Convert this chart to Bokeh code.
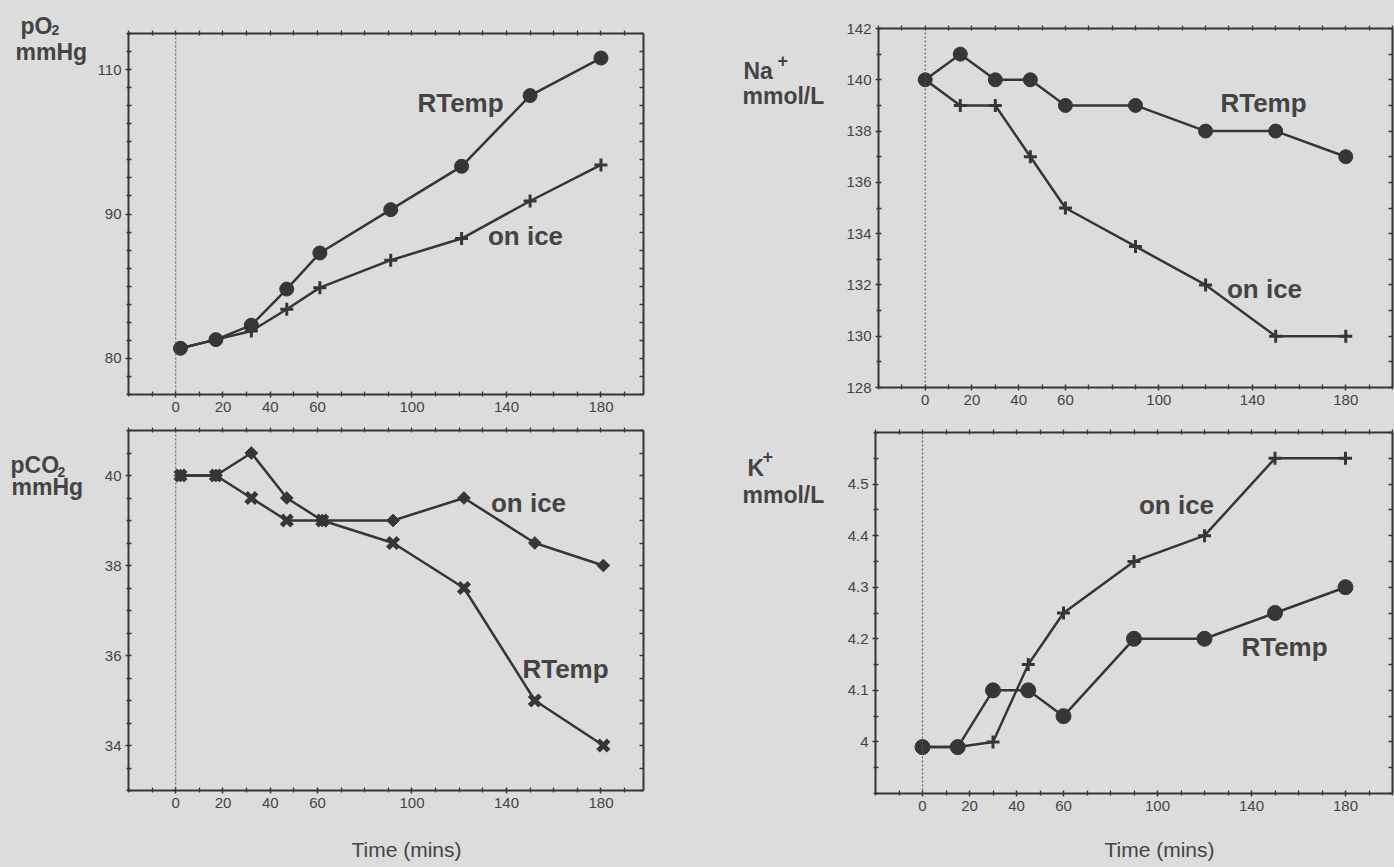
import numpy as np
from bokeh.plotting import figure
from bokeh.models import LinearAxis, FixedTicker, Range1d, Span, Label
from bokeh.layouts import column, row
from bokeh.embed import file_html
from bokeh.resources import INLINE

# ---------------- data ----------------
# pO2 (mmHg) -- values in axis units (tick "110" sits where 100 would be)
po2_time = [2, 17, 32, 47, 61, 91, 121, 150, 180]
po2_rtemp = [80.7, 81.3, 82.3, 84.8, 87.3, 90.3, 93.3, 98.2, 100.8]
po2_ice = [80.7, 81.3, 81.9, 83.4, 84.9, 86.8, 88.3, 90.9, 93.4]
po2_yticks = [80, 90, 100]
po2_ylabels = ["80", "90", "110"]

# Na+ (mmol/L)
na_time = [0, 15, 30, 45, 60, 90, 120, 150, 180]
na_rtemp = [140, 141, 140, 140, 139, 139, 138, 138, 137]
na_ice = [140, 139, 139, 137, 135, 133.5, 132, 130, 130]
na_yticks = [128, 130, 132, 134, 136, 138, 140, 142]
na_ylabels = ["128", "130", "132", "134", "136", "138", "140", "142"]

# pCO2 (mmHg)
pco2_time = [2, 17, 32, 47, 62, 92, 122, 152, 181]
pco2_ice = [40, 40, 40.5, 39.5, 39, 39, 39.5, 38.5, 38]
pco2_rtemp = [40, 40, 39.5, 39, 39, 38.5, 37.5, 35, 34]
pco2_yticks = [34, 36, 38, 40]
pco2_ylabels = ["34", "36", "38", "40"]

# K+ (mmol/L)
k_time = [0, 15, 30, 45, 60, 90, 120, 150, 180]
k_ice = [3.99, 3.99, 4.0, 4.15, 4.25, 4.35, 4.4, 4.55, 4.55]
k_rtemp = [3.99, 3.99, 4.1, 4.1, 4.05, 4.2, 4.2, 4.25, 4.3]
k_yticks = [4.0, 4.1, 4.2, 4.3, 4.4, 4.5]
k_ylabels = ["4", "4.1", "4.2", "4.3", "4.4", "4.5"]

x_label_ticks = [0, 20, 40, 60, 100, 140, 180]
x_label_text = ["0", "20", "40", "60", "100", "140", "180"]
x_all_ticks = list(range(-20, 201, 10))

# ---------------- style ----------------
BG = "#dcdcdc"
INK = "#363636"
TXT = "#444444"
FONT = "Liberation Sans"
LIFT = 8  # px: rendered baseline sits a little lower than requested


def base_fig(W, H, xr, yr, **kw):
    p = figure(width=W, height=H, output_backend="svg", toolbar_location=None,
               title=None, x_range=Range1d(*xr), y_range=Range1d(*yr),
               x_axis_location=None, y_axis_location=None, **kw)
    try:
        p.frame_align = False
    except Exception:
        pass
    p.background_fill_color = BG
    p.border_fill_color = BG
    p.outline_line_color = None
    p.xgrid.visible = False
    p.ygrid.visible = False
    return p


def text_fig(W, H, origin, items):
    """A plain strip that holds titles; items are (page_x, page_y, text, size, bold, align)."""
    ox, oy = origin
    t = base_fig(W, H, (0, W), (H, 0), min_border=0,
                 min_border_left=0, min_border_right=0,
                 min_border_top=0, min_border_bottom=0)
    for px, py, text, size, bold, align in items:
        t.add_layout(Label(x=px - ox, y=py - oy - LIFT, text=text, text_font=FONT,
                           text_font_size=size, text_color=TXT,
                           text_font_style="bold" if bold else "normal",
                           text_align=align, text_baseline="alphabetic"))
    return t


def tick_style(ax):
    ax.axis_line_color = INK
    ax.axis_line_width = 2
    ax.major_tick_line_color = INK
    ax.minor_tick_line_color = INK
    ax.major_tick_line_width = 1.5
    ax.minor_tick_line_width = 1.3
    ax.major_tick_in = 3
    ax.major_tick_out = 3
    ax.minor_tick_in = 3
    ax.minor_tick_out = 2
    ax.major_label_text_font = FONT
    ax.major_label_text_font_size = "15px"
    ax.major_label_text_color = TXT
    ax.major_label_standoff = 4


def make_panel(W, H, origin, geom, xr, yr, yticks, ylabels, yminor_step):
    ox, oy = origin
    fx, fy, fw, fh = geom
    left = fx - ox
    top = fy - oy
    right = W - left - fw
    bottom = H - top - fh
    p = base_fig(W, H, xr, yr, min_border_left=left, min_border_right=right,
                 min_border_top=top, min_border_bottom=bottom)

    ymin = [round(v, 4) for v in np.arange(yr[0], yr[1] + 1e-9, yminor_step)]
    ymin_only = [v for v in ymin if all(abs(v - t) > 1e-6 for t in yticks)]
    xmin_only = [v for v in x_all_ticks if v not in x_label_ticks]

    b = LinearAxis(ticker=FixedTicker(ticks=x_label_ticks, minor_ticks=xmin_only))
    tick_style(b)
    b.major_label_overrides = {t: s for t, s in zip(x_label_ticks, x_label_text)}
    p.add_layout(b, "below")

    t = LinearAxis(ticker=FixedTicker(ticks=[], minor_ticks=x_all_ticks))
    tick_style(t)
    t.minor_tick_out = 3
    t.minor_tick_in = 2
    p.add_layout(t, "above")

    l = LinearAxis(ticker=FixedTicker(ticks=yticks, minor_ticks=ymin_only))
    tick_style(l)
    l.major_label_overrides = {t_: s for t_, s in zip(yticks, ylabels)}
    p.add_layout(l, "left")

    r = LinearAxis(ticker=FixedTicker(ticks=[], minor_ticks=ymin))
    tick_style(r)
    r.minor_tick_out = 0
    r.minor_tick_in = 4
    p.add_layout(r, "right")

    p.add_layout(Span(location=0, dimension="height", line_color="#555555",
                      line_width=1, line_dash="2 2"))

    def place(px, py, text, size="26px"):
        x = xr[0] + (px - fx) / fw * (xr[1] - xr[0])
        y = yr[1] - (py - LIFT - fy) / fh * (yr[1] - yr[0])
        p.add_layout(Label(x=x, y=y, text=text, text_font=FONT,
                           text_font_size=size, text_color=TXT,
                           text_font_style="bold",
                           text_align="center", text_baseline="alphabetic"))

    return p, place


LW = 2.5
xr_l = (-20, 198)
xr_r = (-20, 200)

# ---- pO2 ----
p1, place1 = make_panel(616, 420, (92, 0), (128, 33, 515, 361), xr_l, (77.5, 102.5),
                        po2_yticks, po2_ylabels, 1.25)
p1.line(po2_time, po2_ice, line_width=LW, color=INK)
p1.scatter(po2_time, po2_ice, marker="cross", size=13, line_width=3, line_color=INK)
p1.line(po2_time, po2_rtemp, line_width=LW, color=INK)
p1.scatter(po2_time, po2_rtemp, marker="circle", size=14, color=INK)
place1(460, 110, "RTemp")
place1(525, 243, "on ice")

# ---- Na+ ----
p2, place2 = make_panel(556, 420, (838, 0), (878, 28, 514, 359), xr_r, (128, 142),
                        na_yticks, na_ylabels, 1)
p2.line(na_time, na_ice, line_width=LW, color=INK)
p2.scatter(na_time, na_ice, marker="cross", size=13, line_width=3, line_color=INK)
p2.line(na_time, na_rtemp, line_width=LW, color=INK)
p2.scatter(na_time, na_rtemp, marker="circle", size=14, color=INK)
place2(1263, 110, "RTemp")
place2(1264, 296, "on ice")

# ---- pCO2 ----
p3, place3 = make_panel(616, 415, (92, 420), (128, 430, 515, 360), xr_l, (33, 41),
                        pco2_yticks, pco2_ylabels, 0.5)
p3.line(pco2_time, pco2_ice, line_width=LW, color=INK)
p3.scatter(pco2_time, pco2_ice, marker="square", angle=np.pi / 4, size=9, color=INK)
p3.line(pco2_time, pco2_rtemp, line_width=LW, color=INK)
p3.scatter(pco2_time, pco2_rtemp, marker="x", size=15, line_width=5, line_color=INK)
place3(528, 510, "on ice")
place3(565, 676, "RTemp")

# ---- K+ ----
p4, place4 = make_panel(556, 415, (838, 420), (875, 432, 517, 361), xr_r, (3.9, 4.6),
                        k_yticks, k_ylabels, 0.05)
p4.line(k_time, k_ice, line_width=LW, color=INK)
p4.scatter(k_time, k_ice, marker="cross", size=13, line_width=3, line_color=INK)
p4.line(k_time, k_rtemp, line_width=LW, color=INK)
p4.scatter(k_time, k_rtemp, marker="circle", size=15, color=INK)
place4(1176, 512, "on ice")
place4(1284, 654, "RTemp")

# ---- title strips ----
a1 = text_fig(92, 420, (0, 0), [
    (20, 33, "pO", "23px", True, "left"),
    (51, 37, "2", "14px", True, "left"),
    (15, 59, "mmHg", "23px", True, "left"),
])
a2 = text_fig(130, 420, (708, 0), [
    (743, 78, "Na", "23px", True, "left"),
    (777, 68, "+", "18px", True, "left"),
    (742, 103, "mmol/L", "23px", True, "left"),
])
a3 = text_fig(92, 415, (0, 420), [
    (10, 472, "pCO", "23px", True, "left"),
    (57, 479, "2", "14px", True, "left"),
    (11, 494, "mmHg", "23px", True, "left"),
])
a4 = text_fig(130, 415, (708, 420), [
    (747, 475, "K", "23px", True, "left"),
    (762, 464, "+", "18px", True, "left"),
    (742, 502, "mmol/L", "23px", True, "left"),
])
strip = text_fig(1394, 32, (0, 835), [
    (406, 857, "Time (mins)", "21px", False, "center"),
    (1159, 857, "Time (mins)", "21px", False, "center"),
])

layout = column(row(a1, p1, a2, p2, spacing=0),
                row(a3, p3, a4, p4, spacing=0),
                strip, spacing=0)
layout.background = BG

html = file_html(layout, INLINE)
html = html.replace("<head>", "<head><style>html,body{background:#dcdcdc;}</style>", 1)
open("out.html", "w").write(html)
